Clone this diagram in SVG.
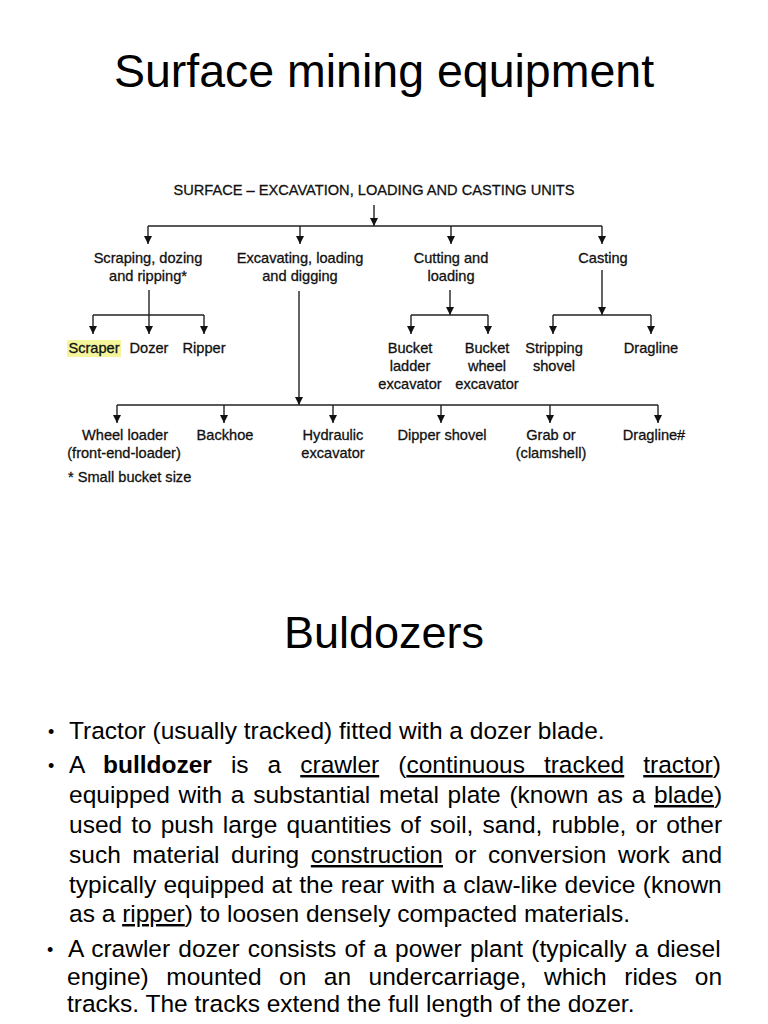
<svg xmlns="http://www.w3.org/2000/svg" width="768" height="1024" viewBox="0 0 768 1024">
<style>
.title{font-family:"Liberation Sans",Arial,sans-serif;font-size:46.5px;fill:#000;text-anchor:middle}
.lbl{font-family:"Liberation Sans",Arial,sans-serif;font-size:14.6px;fill:#111;stroke:#111;stroke-width:0.3;text-anchor:middle}
.body{font-family:"Liberation Sans",Arial,sans-serif;font-size:24.5px;fill:#000}
.bul{font-family:"Liberation Sans",Arial,sans-serif;font-size:18px;fill:#000}
.u{text-decoration:underline}
.c{stroke:#222;stroke-width:1.4;fill:none}
.a{marker-end:url(#ah)}
</style>
<defs>
<marker id="ah" viewBox="0 0 8 8" refX="8" refY="4" markerWidth="8" markerHeight="8" markerUnits="userSpaceOnUse" orient="auto">
<path d="M0,0 L8,4 L0,8 z" fill="#111"/>
</marker>
</defs>
<rect width="768" height="1024" fill="#fff"/>
<text class="title" x="384" y="87">Surface mining equipment</text>

<g id="connectors">
<line class="c a" x1="374" y1="205" x2="374" y2="226"/>
<line class="c" x1="148" y1="226" x2="602" y2="226"/>
<line class="c a" x1="148" y1="226" x2="148" y2="244"/>
<line class="c a" x1="300" y1="226" x2="300" y2="244"/>
<line class="c a" x1="451" y1="226" x2="451" y2="244"/>
<line class="c a" x1="602" y1="226" x2="602" y2="244"/>
<line class="c" x1="149" y1="290" x2="149" y2="315"/>
<line class="c" x1="93" y1="315" x2="204" y2="315"/>
<line class="c a" x1="93" y1="315" x2="93" y2="334"/>
<line class="c a" x1="149" y1="315" x2="149" y2="334"/>
<line class="c a" x1="204" y1="315" x2="204" y2="334"/>
<line class="c a" x1="450" y1="290" x2="450" y2="315"/>
<line class="c" x1="411" y1="315" x2="488" y2="315"/>
<line class="c a" x1="411" y1="315" x2="411" y2="334"/>
<line class="c a" x1="488" y1="315" x2="488" y2="334"/>
<line class="c a" x1="602" y1="270" x2="602" y2="315"/>
<line class="c" x1="553" y1="315" x2="651" y2="315"/>
<line class="c a" x1="553" y1="315" x2="553" y2="334"/>
<line class="c a" x1="651" y1="315" x2="651" y2="334"/>
<line class="c a" x1="299" y1="291" x2="299" y2="405"/>
<line class="c" x1="117" y1="405" x2="658" y2="405"/>
<line class="c a" x1="117" y1="405" x2="117" y2="423"/>
<line class="c a" x1="224" y1="405" x2="224" y2="423"/>
<line class="c a" x1="333" y1="405" x2="333" y2="423"/>
<line class="c a" x1="441" y1="405" x2="441" y2="423"/>
<line class="c a" x1="550" y1="405" x2="550" y2="423"/>
<line class="c a" x1="658" y1="405" x2="658" y2="423"/>
</g>

<g id="root"><text class="lbl" x="374" y="195" textLength="401" lengthAdjust="spacingAndGlyphs">SURFACE – EXCAVATION, LOADING AND CASTING UNITS</text></g>
<g id="scraping"><text class="lbl" x="148" y="263">Scraping, dozing</text><text class="lbl" x="148" y="281">and ripping*</text></g>
<g id="excavating"><text class="lbl" x="300" y="263">Excavating, loading</text><text class="lbl" x="300" y="281">and digging</text></g>
<g id="cutting"><text class="lbl" x="451" y="263">Cutting and</text><text class="lbl" x="451" y="281">loading</text></g>
<g id="casting"><text class="lbl" x="603" y="263">Casting</text></g>
<g id="scraper"><rect x="67" y="340" width="54" height="17" fill="#f5f59c"/><text class="lbl" x="94" y="353">Scraper</text></g>
<g id="dozer"><text class="lbl" x="149" y="353">Dozer</text></g>
<g id="ripper"><text class="lbl" x="204" y="353">Ripper</text></g>
<g id="bucket-ladder"><text class="lbl" x="410" y="353">Bucket</text><text class="lbl" x="410" y="371">ladder</text><text class="lbl" x="410" y="389">excavator</text></g>
<g id="bucket-wheel"><text class="lbl" x="487" y="353">Bucket</text><text class="lbl" x="487" y="371">wheel</text><text class="lbl" x="487" y="389">excavator</text></g>
<g id="stripping"><text class="lbl" x="554" y="353">Stripping</text><text class="lbl" x="554" y="371">shovel</text></g>
<g id="dragline"><text class="lbl" x="651" y="353">Dragline</text></g>
<g id="wheel-loader"><text class="lbl" x="125" y="440">Wheel loader</text><text class="lbl" x="124" y="458">(front-end-loader)</text></g>
<g id="backhoe"><text class="lbl" x="225" y="440">Backhoe</text></g>
<g id="hydraulic"><text class="lbl" x="333" y="440">Hydraulic</text><text class="lbl" x="333" y="458">excavator</text></g>
<g id="dipper"><text class="lbl" x="442" y="440">Dipper shovel</text></g>
<g id="grab"><text class="lbl" x="551" y="440">Grab or</text><text class="lbl" x="551" y="458">(clamshell)</text></g>
<g id="dragline2"><text class="lbl" x="654" y="440">Dragline#</text></g>
<text class="lbl" x="68" y="482" style="text-anchor:start">* Small bucket size</text>

<text class="title" x="384" y="648" style="font-size:45px">Buldozers</text>

<g id="bullets">
<text class="bul" x="48" y="738">•</text>
<text class="body" x="69" y="739">Tractor (usually tracked) fitted with a dozer blade.</text>
<text class="bul" x="48" y="772">•</text>
<text class="body" x="69" y="773" style="word-spacing:12.2px">A <tspan font-weight="bold">bulldozer</tspan> is a <tspan class="u">crawler</tspan> (<tspan class="u">continuous tracked</tspan> <tspan class="u">tractor</tspan>)</text>
<text class="body" x="69" y="803" style="word-spacing:1.9px">equipped with a substantial metal plate (known as a <tspan class="u">blade</tspan>)</text>
<text class="body" x="69" y="833" style="word-spacing:2.25px">used to push large quantities of soil, sand, rubble, or other</text>
<text class="body" x="69" y="863" style="word-spacing:4.8px">such material during <tspan class="u">construction</tspan> or conversion work and</text>
<text class="body" x="69" y="893" style="word-spacing:0.5px">typically equipped at the rear with a claw-like device (known</text>
<text class="body" x="69" y="922">as a <tspan class="u">ripper</tspan>) to loosen densely compacted materials.</text>
<text class="bul" x="47" y="956">•</text>
<text class="body" x="68" y="957" style="word-spacing:1.4px">A crawler dozer consists of a power plant (typically a diesel</text>
<text class="body" x="67" y="985" style="word-spacing:10.7px">engine) mounted on an undercarriage, which rides on</text>
<text class="body" x="67" y="1012">tracks. The tracks extend the full length of the dozer.</text>
</g>
</svg>
